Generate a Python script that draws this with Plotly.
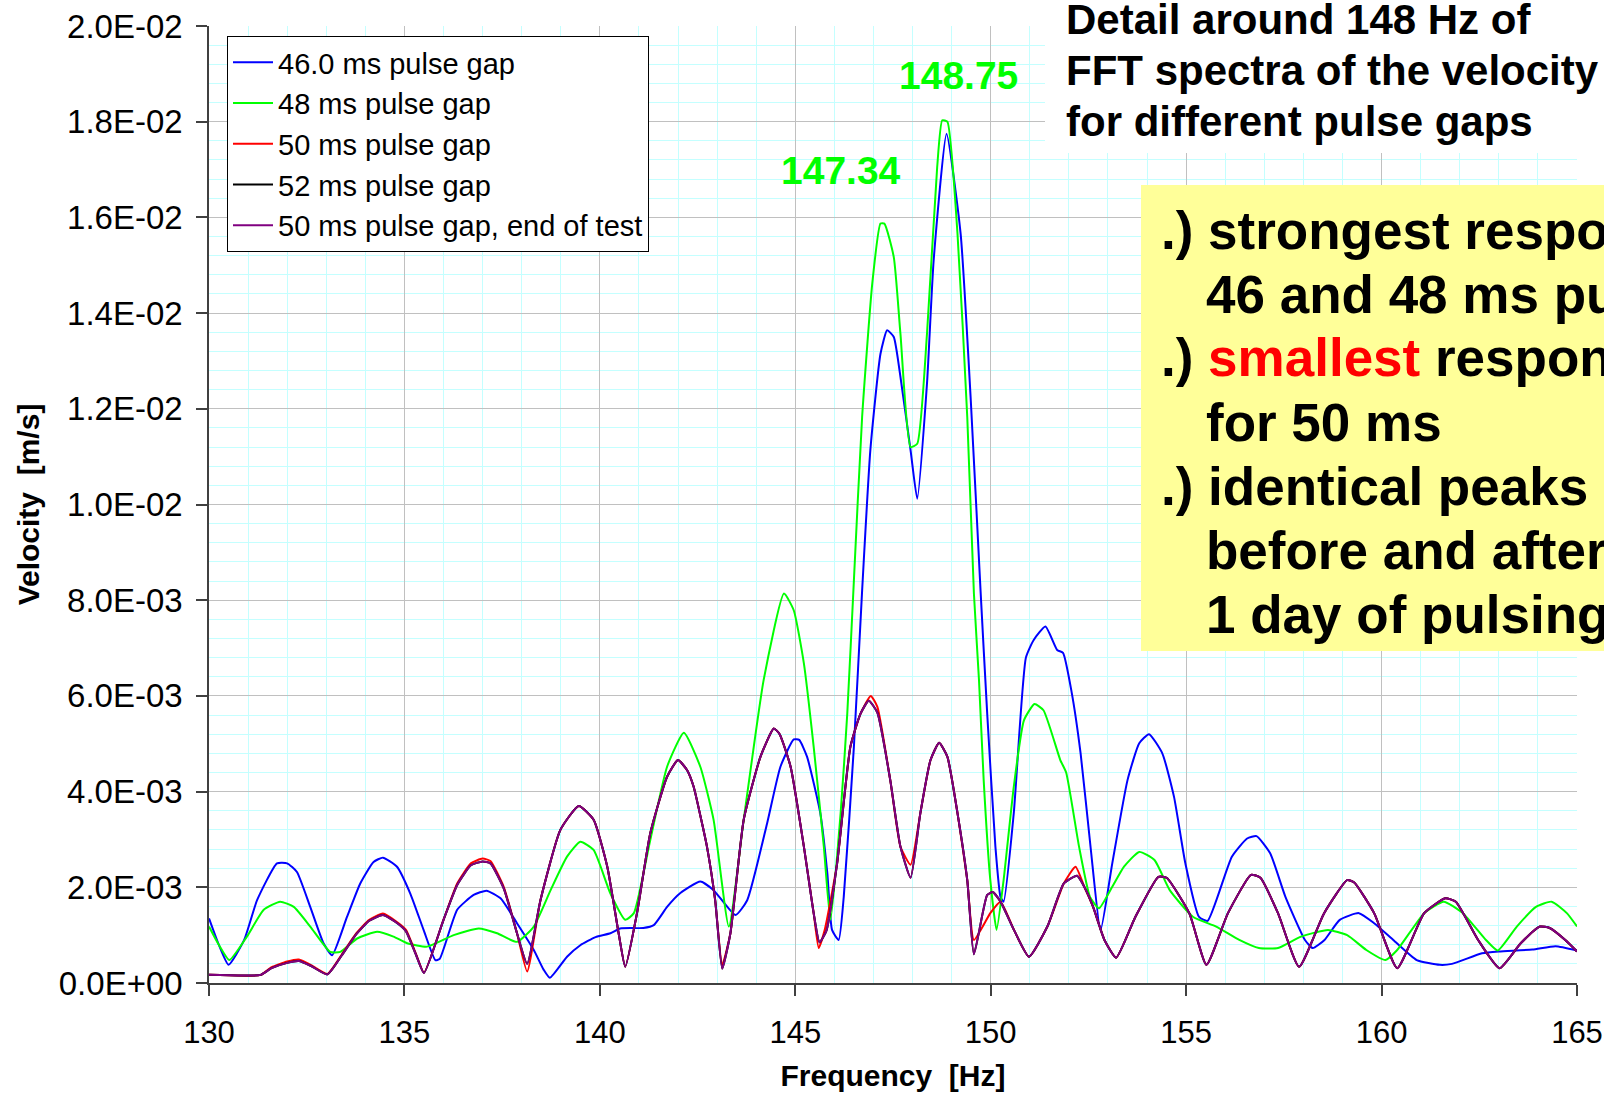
import plotly.graph_objects as go

# ---------------- data ----------------
f46 = [130.0, 130.25, 130.5, 130.9, 131.23, 131.74, 132.0, 132.25, 132.59, 132.93, 133.15, 133.53,
       133.87, 134.21, 134.45, 134.81, 135.15, 135.49, 135.79, 135.9, 136.35, 136.77, 137.1, 137.46,
       137.88, 138.31, 138.56, 138.72, 139.16, 139.5, 139.89, 140.27, 140.52, 141.11, 141.38, 141.72,
       142.06, 142.57, 142.91, 143.47, 143.77, 144.28, 144.62, 144.96, 145.1, 145.3, 145.64, 145.82,
       145.94, 146.11, 146.24, 146.5, 146.71, 146.92, 147.18, 147.35, 147.52, 147.69, 147.95, 148.12,
       148.37, 148.54, 148.87, 149.23, 149.49, 149.74, 149.91, 150.12, 150.25, 150.33, 150.59, 150.9,
       151.1, 151.4, 151.7, 151.85, 152.07, 152.3, 152.56, 152.81, 153.11, 153.5, 153.8, 154.05,
       154.39, 154.69, 154.98, 155.33, 155.55, 156.17, 156.56, 156.8, 157.15, 157.54, 158.04, 158.24,
       158.54, 158.93, 159.42, 159.81, 160.3, 160.9, 161.49, 161.8, 162.57, 163.0, 163.86, 164.45, 165.0]
v46 = [0.00135, 0.0008, 0.00038, 0.0009, 0.00173, 0.0025, 0.0025, 0.00232, 0.00159, 0.00083, 0.00058, 0.00138,
       0.00208, 0.00253, 0.00262, 0.00243, 0.00187, 0.00111, 0.00048, 0.0005, 0.00153, 0.00184, 0.00193, 0.00177,
       0.00125, 0.00069, 0.00028, 0.00011, 0.00055, 0.00079, 0.00096, 0.00104, 0.00114, 0.00115, 0.00121, 0.00159,
       0.00188, 0.00212, 0.00194, 0.00142, 0.00173, 0.00334, 0.00452, 0.00509, 0.00508, 0.00473, 0.00355, 0.00229,
       0.00111, 0.0009, 0.0018, 0.00494, 0.0082, 0.01113, 0.01315, 0.01364, 0.0135, 0.01267, 0.01113, 0.01012,
       0.01253, 0.0151, 0.01775, 0.01566, 0.01218, 0.0082, 0.00563, 0.00285, 0.0018, 0.0017, 0.00355, 0.0068,
       0.00717, 0.00745, 0.00696, 0.0069, 0.00608, 0.0048, 0.0028, 0.0011, 0.0025, 0.00424, 0.00501, 0.0052,
       0.0048, 0.00389, 0.0025, 0.00138, 0.0013, 0.00264, 0.00302, 0.00307, 0.00271, 0.0018, 0.0009, 0.00073,
       0.0009, 0.00132, 0.00146, 0.00125, 0.0009, 0.00048, 0.00038, 0.0004, 0.00062, 0.00066, 0.0007, 0.00077, 0.00068]

f48 = [130.0, 130.25, 130.52, 130.97, 131.4, 131.82, 132.17, 132.59, 133.1, 133.36, 133.79, 134.3,
       134.72, 135.07, 135.58, 136.26, 136.9, 137.37, 137.88, 138.31, 138.74, 139.16, 139.5, 139.84,
       140.27, 140.65, 140.87, 141.29, 141.72, 142.15, 142.57, 142.91, 143.3, 143.68, 144.19, 144.71,
       144.96, 145.22, 145.47, 145.73, 145.9, 146.16, 146.33, 146.5, 146.71, 146.97, 147.18, 147.28,
       147.52, 147.69, 147.95, 148.12, 148.37, 148.63, 148.76, 148.89, 149.15, 149.4, 149.57, 149.7,
       149.82, 149.99, 150.15, 150.33, 150.59, 150.85, 151.12, 151.35, 151.78, 151.93, 152.26, 152.54,
       152.77, 153.11, 153.41, 153.8, 154.19, 154.58, 155.18, 155.77, 156.36, 156.86, 157.35, 157.94,
       158.63, 159.12, 159.61, 160.1, 160.4, 161.09, 161.59, 162.08, 162.67, 162.97, 163.46, 163.95,
       164.35, 164.74, 165.0]
v48 = [0.00118, 0.0008, 0.00048, 0.00097, 0.00153, 0.0017, 0.00159, 0.00118, 0.00065, 0.00065, 0.00093, 0.00107,
       0.00097, 0.00083, 0.00076, 0.001, 0.00114, 0.00104, 0.00086, 0.00118, 0.00194, 0.00264, 0.00295, 0.00278,
       0.00187, 0.00132, 0.00146, 0.00299, 0.00452, 0.00523, 0.00452, 0.00341, 0.00118, 0.00341, 0.00633, 0.00814,
       0.00779, 0.00668, 0.00494, 0.00285, 0.00132, 0.00355, 0.00563, 0.00842, 0.01183, 0.01462, 0.01587, 0.01587,
       0.01517, 0.01357, 0.0112, 0.01127, 0.01357, 0.01705, 0.01803, 0.018, 0.01566, 0.01183, 0.00814, 0.00633,
       0.00424, 0.00215, 0.00111, 0.00215, 0.0041, 0.00549, 0.00583, 0.0057, 0.00466, 0.0044, 0.00285, 0.0018,
       0.00156, 0.00201, 0.00243, 0.00274, 0.00257, 0.00194, 0.00138, 0.00118, 0.0009, 0.00073, 0.00073, 0.00097,
       0.00111, 0.001, 0.00069, 0.00048, 0.00069, 0.00146, 0.0017, 0.00146, 0.0009, 0.00068, 0.00118, 0.00159,
       0.0017, 0.00146, 0.00118]

f50 = [130.0, 131.32, 131.6, 132.0, 132.3, 132.6, 133.03, 133.4, 133.77, 134.1, 134.45, 134.8,
       135.04, 135.3, 135.5, 136.0, 136.35, 136.7, 137.0, 137.2, 137.54, 137.88, 138.14, 138.48,
       138.99, 139.46, 139.84, 140.19, 140.48, 140.65, 140.95, 141.29, 141.72, 142.0, 142.23, 142.4,
       142.57, 142.74, 142.95, 143.13, 143.34, 143.68, 144.11, 144.45, 144.6, 144.88, 145.22, 145.47,
       145.6, 145.75, 146.07, 146.41, 146.67, 146.93, 147.1, 147.43, 147.69, 147.95, 148.2, 148.46,
       148.68, 148.89, 149.15, 149.4, 149.57, 149.99, 150.25, 150.6, 150.98, 151.45, 151.87, 152.17,
       152.4, 152.62, 152.91, 153.21, 153.7, 154.29, 154.5, 155.08, 155.52, 156.07, 156.66, 156.9,
       157.35, 157.89, 158.53, 159.12, 159.3, 159.81, 160.4, 161.09, 161.63, 161.9, 162.47, 163.02,
       163.56, 164.05, 164.3, 164.7, 165.0]
v50 = [0.00017, 0.00017, 0.00033, 0.00045, 0.00049, 0.00038, 0.00019, 0.0006, 0.00104, 0.00132, 0.00145, 0.00128,
       0.00111, 0.0006, 0.00022, 0.00132, 0.00208, 0.0025, 0.0026, 0.00255, 0.00201, 0.00104, 0.00024, 0.00173,
       0.0032, 0.0037, 0.00341, 0.00243, 0.00104, 0.00034, 0.00146, 0.00313, 0.00431, 0.00466, 0.00445, 0.0041,
       0.0035, 0.00285, 0.00173, 0.00038, 0.00104, 0.00341, 0.00473, 0.00532, 0.0052, 0.00452, 0.00285, 0.00146,
       0.00073, 0.0011, 0.0025, 0.00494, 0.00563, 0.006, 0.00577, 0.00424, 0.00285, 0.00247, 0.00355, 0.00466,
       0.00502, 0.00473, 0.00355, 0.00215, 0.0009, 0.00146, 0.0017, 0.0011, 0.00055, 0.00118, 0.00208, 0.00243,
       0.002, 0.00159, 0.0009, 0.00053, 0.00138, 0.00222, 0.0022, 0.00146, 0.00038, 0.00146, 0.00226, 0.0022,
       0.00146, 0.00034, 0.00146, 0.00215, 0.0021, 0.00146, 0.00031, 0.00146, 0.00177, 0.0017, 0.0009, 0.00031,
       0.00083, 0.00118, 0.00115, 0.0009, 0.00066]

f50e = [130.0, 131.32, 131.6, 132.0, 132.3, 132.6, 133.03, 133.4, 133.77, 134.1, 134.45, 134.8,
        135.04, 135.3, 135.5, 136.0, 136.35, 136.7, 137.0, 137.2, 137.54, 137.88, 138.14, 138.48,
        138.99, 139.46, 139.84, 140.19, 140.48, 140.65, 140.95, 141.29, 141.72, 142.0, 142.23, 142.4,
        142.57, 142.74, 142.95, 143.13, 143.34, 143.68, 144.11, 144.45, 144.6, 144.88, 145.22, 145.47,
        145.62, 145.8, 146.07, 146.41, 146.67, 146.88, 147.1, 147.43, 147.69, 147.95, 148.2, 148.46,
        148.68, 148.89, 149.15, 149.4, 149.57, 149.91, 150.05, 150.25, 150.6, 150.98, 151.45, 151.87,
        152.21, 152.4, 152.62, 152.91, 153.21, 153.7, 154.29, 154.5, 155.08, 155.52, 156.07, 156.66,
        156.9, 157.35, 157.89, 158.53, 159.12, 159.3, 159.81, 160.4, 161.09, 161.63, 161.9, 162.47,
        163.02, 163.56, 164.05, 164.3, 164.7, 165.0]
v50e = [0.00017, 0.00017, 0.00031, 0.00042, 0.00046, 0.00036, 0.00018, 0.00058, 0.00102, 0.0013, 0.00142, 0.00126,
        0.00108, 0.00058, 0.00021, 0.00132, 0.00205, 0.00246, 0.00254, 0.0025, 0.00198, 0.00104, 0.0004, 0.00173,
        0.0032, 0.0037, 0.00341, 0.00243, 0.00104, 0.00034, 0.00146, 0.00313, 0.00431, 0.00466, 0.00445, 0.0041,
        0.0035, 0.00285, 0.00173, 0.0003, 0.00104, 0.00341, 0.00473, 0.00532, 0.0052, 0.00452, 0.00285, 0.00146,
        0.00085, 0.0011, 0.0025, 0.00494, 0.00563, 0.0059, 0.00565, 0.00424, 0.00285, 0.0022, 0.00355, 0.00466,
        0.00502, 0.00473, 0.00355, 0.00215, 0.0006, 0.00184, 0.0019, 0.0017, 0.0011, 0.00055, 0.00118, 0.00208,
        0.00224, 0.002, 0.00159, 0.0009, 0.00053, 0.00138, 0.00222, 0.0022, 0.00146, 0.00038, 0.00146, 0.00226,
        0.0022, 0.00146, 0.00034, 0.00146, 0.00215, 0.0021, 0.00146, 0.00031, 0.00146, 0.00177, 0.0017, 0.0009,
        0.00031, 0.00083, 0.00118, 0.00115, 0.0009, 0.00066]

# 52 ms curve is fully hidden under the "end of test" curve in the reference
f52 = list(f50e)
v52 = list(v50e)

series_names = ["46.0 ms pulse gap", "48 ms pulse gap", "50 ms pulse gap", "52 ms pulse gap",
                "50 ms pulse gap, end of test"]
series_colors = ["#0000ff", "#00ff00", "#ff0000", "#000000", "#800080"]
series_x = [f46, f48, f50, f52, f50e]
series_y = [v46, v48, v50, v52, v50e]

x_ticks = [130, 135, 140, 145, 150, 155, 160, 165]
y_ticks = [0, 0.002, 0.004, 0.006, 0.008, 0.010, 0.012, 0.014, 0.016, 0.018, 0.020]
y_ticktext = ["0.0E+00", "2.0E-03", "4.0E-03", "6.0E-03", "8.0E-03", "1.0E-02",
              "1.2E-02", "1.4E-02", "1.6E-02", "1.8E-02", "2.0E-02"]

peak_labels = [(149.17, 0.01897, "148.75"), (146.17, 0.01699, "147.34")]

title_lines = ["Detail around 148 Hz of", "FFT spectra of the velocity", "for different pulse gaps"]
box_lines = [".) strongest response for",
             "46 and 48 ms pulse gaps",
             ".) <span style='color:#ff0000'>smallest</span> response",
             "for 50 ms",
             ".) identical peaks",
             "before and after",
             "1 day of pulsing"]

# ---------------- figure ----------------
W, H = 1604, 1094
L, R, T, B = 209, 1577, 26, 983
def px(x):
    return (x - L) / (R - L)
def py(y):
    return (B - y) / (B - T)

FONT = "Arial, Liberation Sans, Helvetica, sans-serif"

fig = go.Figure()
for xs, ys, name, col in zip(series_x, series_y, series_names, series_colors):
    fig.add_trace(go.Scatter(x=xs, y=ys, mode="lines", name=name,
                             line=dict(color=col, width=2, shape="spline", smoothing=0.5)))

fig.update_layout(
    width=W, height=H,
    margin=dict(l=L, r=W - R, t=T, b=H - B, autoexpand=False),
    paper_bgcolor="white", plot_bgcolor="white",
    font=dict(family=FONT, color="black", size=30),
    showlegend=True,
    legend=dict(x=px(227), y=py(36), xanchor="left", yanchor="top",
                bgcolor="white", bordercolor="black", borderwidth=1,
                font=dict(size=29, family=FONT), tracegroupgap=0, itemwidth=40),
)

fig.update_xaxes(
    range=[130, 165], tickmode="array", tickvals=x_ticks, automargin=False,
    showgrid=True, gridcolor="#c0c0c0", gridwidth=1, zeroline=False,
    showline=True, linecolor="#404040", linewidth=1.5,
    ticks="outside", ticklen=11, tickcolor="#404040", tickwidth=1.5,
    tickfont=dict(size=31), ticklabelstandoff=10,
    minor=dict(tickmode="linear", tick0=130, dtick=1, showgrid=True, gridcolor="#c4ffff", ticks=""),
    title=dict(text="Frequency\u00a0 [Hz]", font=dict(size=30, weight="bold"), standoff=16),
)
fig.update_yaxes(
    range=[0, 0.02], tickmode="array", tickvals=y_ticks, ticktext=y_ticktext, automargin=False,
    showgrid=True, gridcolor="#c0c0c0", gridwidth=1, zeroline=False,
    showline=True, linecolor="#404040", linewidth=1.5,
    ticks="outside", ticklen=11, tickcolor="#404040", tickwidth=1.5,
    tickfont=dict(size=33), ticklabelstandoff=7,
    minor=dict(tickmode="linear", tick0=0, dtick=0.0004, showgrid=True, gridcolor="#c4ffff", ticks=""),
    title=dict(text="Velocity\u00a0 [m/s]", font=dict(size=30, weight="bold"), standoff=10),
)

# white block behind the title and yellow note box
fig.add_shape(type="rect", xref="paper", yref="paper", x0=px(1045), x1=px(W + 5), y0=py(153), y1=py(-5),
              fillcolor="white", line=dict(width=0), layer="above")
fig.add_shape(type="rect", xref="paper", yref="paper", x0=px(1141), x1=px(W + 5), y0=py(651), y1=py(185),
              fillcolor="#ffff99", line=dict(width=0), layer="above")

for i, t in enumerate(title_lines):
    fig.add_annotation(xref="paper", yref="paper", x=px(1064), y=py(19 + 51 * i), xanchor="left", yanchor="middle",
                       text=t, showarrow=False, font=dict(size=42, weight="bold", color="black"))

box_x = [1159, 1204, 1159, 1204, 1159, 1204, 1204]
for i, (t, bx) in enumerate(zip(box_lines, box_x)):
    fig.add_annotation(xref="paper", yref="paper", x=px(bx), y=py(230 + 64 * i), xanchor="left", yanchor="middle",
                       text=t, showarrow=False, font=dict(size=53, weight="bold", color="black"))

for xv, yv, t in peak_labels:
    fig.add_annotation(x=xv, y=yv, xref="x", yref="y", text=t, showarrow=False,
                       font=dict(size=39, weight="bold", color="#00ff00"))

fig.write_html("out.html")
